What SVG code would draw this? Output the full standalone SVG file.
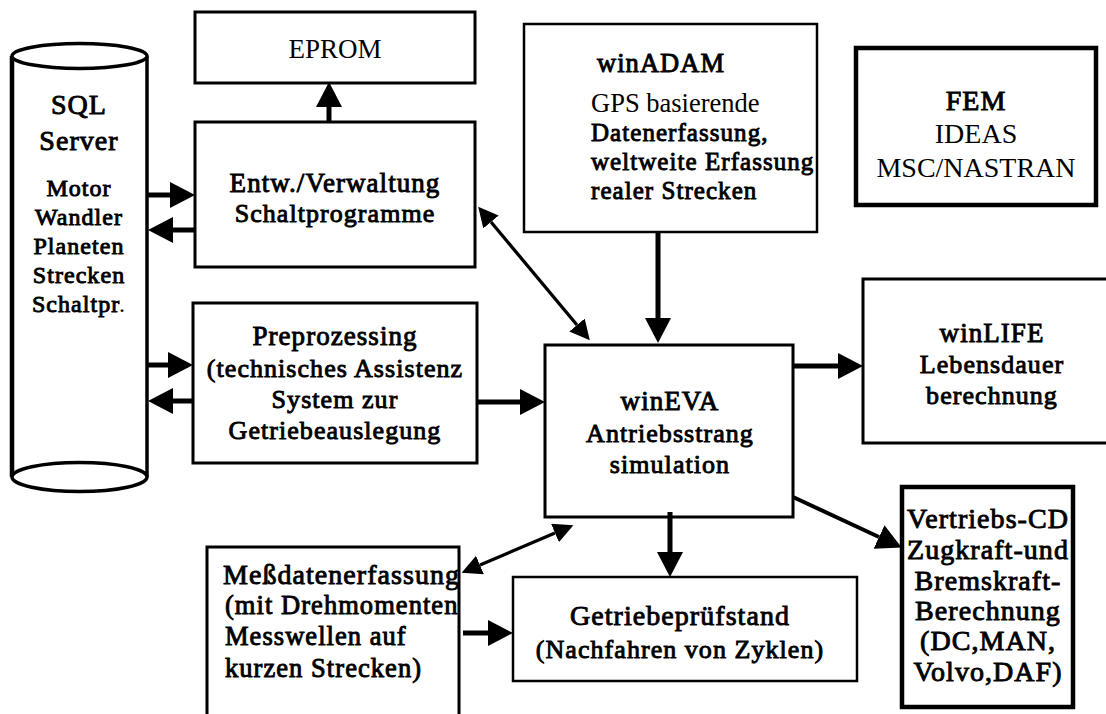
<svg xmlns="http://www.w3.org/2000/svg" width="1106" height="714" viewBox="0 0 1106 714">
<defs>
<style>
.box{fill:#fff;stroke:#000;stroke-width:3}
.thin{stroke-width:2.5}
.thick{stroke-width:4.5}
.t{font-family:"Liberation Serif","Times New Roman",serif;font-weight:normal;fill:#000;text-anchor:middle}
.b{stroke:#000;stroke-width:0.9px;letter-spacing:1.05px}
.l{text-anchor:start}
.c5{stroke:#000;stroke-width:5;fill:none}
.c4{stroke:#000;stroke-width:4;fill:none}
.c3{stroke:#000;stroke-width:3.3;fill:none}
</style>
<marker id="ah" markerUnits="userSpaceOnUse" markerWidth="25" markerHeight="26" refX="0" refY="13" orient="auto-start-reverse" viewBox="0 0 25 26">
<path d="M0,0 L25,13 L0,26 z" fill="#000"/>
</marker>
<marker id="as" markerUnits="userSpaceOnUse" markerWidth="20" markerHeight="20" refX="0" refY="10" orient="auto-start-reverse" viewBox="0 0 20 20">
<path d="M0,0 L20,10 L0,20 z" fill="#000"/>
</marker>
</defs>
<rect width="1106" height="714" fill="#fff"/>

<g id="sql">
<line x1="12" y1="56" x2="12" y2="477" stroke="#000" stroke-width="4.5"/>
<line x1="147" y1="56" x2="147" y2="477" stroke="#000" stroke-width="3.5"/>
<ellipse cx="79.5" cy="56" rx="67.5" ry="12.5" fill="#fff" stroke="#000" stroke-width="3.5"/>
<ellipse cx="79.5" cy="477" rx="67.5" ry="14.5" fill="#fff" stroke="#000" stroke-width="3.5"/>
<text class="t b" x="79" y="114" font-size="28">SQL</text>
<text class="t b" x="79" y="150" font-size="28">Server</text>
<text class="t b" x="79" y="196" font-size="24">Motor</text>
<text class="t b" x="79" y="225" font-size="24">Wandler</text>
<text class="t b" x="79" y="254" font-size="24">Planeten</text>
<text class="t b" x="79" y="283" font-size="24">Strecken</text>
<text class="t b" x="79" y="312" font-size="24">Schaltpr<tspan stroke-width="0">.</tspan></text>
</g>

<g id="eprom">
<rect class="box" x="195" y="12" width="280" height="71"/>
<text class="t" x="335" y="58" font-size="27">EPROM</text>
</g>

<g id="entw">
<rect class="box" x="195" y="122" width="280" height="145"/>
<text class="t b" x="335" y="192" font-size="27">Entw./Verwaltung</text>
<text class="t b" x="335" y="222" font-size="26">Schaltprogramme</text>
</g>

<g id="winadam">
<rect class="box thin" x="524" y="24" width="293" height="208"/>
<text class="t b l" x="597" y="72" font-size="26.5">winADAM</text>
<text class="t l" x="591" y="112" font-size="26.5">GPS basierende</text>
<text class="t b l" x="591" y="141" font-size="25" letter-spacing="0.8">Datenerfassung,</text>
<text class="t b l" x="591" y="170" font-size="25" letter-spacing="0.8">weltweite Erfassung</text>
<text class="t b l" x="591" y="199" font-size="25" letter-spacing="0.8">realer Strecken</text>
</g>

<g id="fem">
<rect class="box thick" x="856" y="48" width="240" height="157"/>
<text class="t b" x="976" y="110" font-size="28">FEM</text>
<text class="t" x="976" y="143" font-size="28">IDEAS</text>
<text class="t" x="976" y="177" font-size="28">MSC/NASTRAN</text>
</g>

<g id="preprozessing">
<rect class="box" x="193" y="303" width="284" height="160"/>
<text class="t b" x="335" y="345" font-size="27">Preprozessing</text>
<text class="t b" x="335" y="377" font-size="26">(technisches Assistenz</text>
<text class="t b" x="335" y="408" font-size="26">System zur</text>
<text class="t b" x="335" y="439" font-size="26">Getriebeauslegung</text>
</g>

<g id="wineva">
<rect class="box" x="545" y="345" width="248" height="172"/>
<text class="t b" x="670" y="410" font-size="27">winEVA</text>
<text class="t b" x="670" y="442" font-size="26">Antriebsstrang</text>
<text class="t b" x="670" y="473" font-size="26">simulation</text>
</g>

<g id="winlife">
<rect class="box" x="863" y="279" width="250" height="164"/>
<text class="t b" x="992" y="342" font-size="27">winLIFE</text>
<text class="t b" x="992" y="373" font-size="26">Lebensdauer</text>
<text class="t b" x="992" y="404" font-size="26">berechnung</text>
</g>

<g id="vertrieb">
<rect class="box thick" x="902" y="487" width="171" height="220"/>
<text class="t b" x="988" y="528" font-size="28">Vertriebs-CD</text>
<text class="t b" x="988" y="559" font-size="28">Zugkraft-und</text>
<text class="t b" x="988" y="590" font-size="28">Bremskraft-</text>
<text class="t b" x="988" y="620" font-size="28">Berechnung</text>
<text class="t b" x="988" y="650" font-size="28">(DC,MAN,</text>
<text class="t b" x="988" y="681" font-size="28">Volvo,DAF)</text>
</g>

<g id="messdaten">
<rect class="box" x="207" y="547" width="252" height="180"/>
<text class="t b l" x="223" y="584" font-size="28" letter-spacing="1.3">Meßdatenerfassung</text>
<text class="t b l" x="225" y="614" font-size="26.5">(mit Drehmomenten</text>
<text class="t b l" x="225" y="645" font-size="26.5">Messwellen auf</text>
<text class="t b l" x="225" y="677" font-size="26.5">kurzen Strecken)</text>
</g>

<g id="pruefstand">
<rect class="box thin" x="513" y="577" width="344" height="104"/>
<text class="t b" x="680" y="625" font-size="28">Getriebeprüfstand</text>
<text class="t b" x="680" y="658" font-size="26">(Nachfahren von Zyklen)</text>
</g>

<g id="connectors">
<line class="c5" x1="148" y1="195" x2="170" y2="195" marker-end="url(#ah)"/>
<line class="c5" x1="195" y1="230" x2="173" y2="230" marker-end="url(#ah)"/>
<line class="c5" x1="148" y1="365" x2="168" y2="365" marker-end="url(#ah)"/>
<line class="c5" x1="193" y1="401" x2="173" y2="401" marker-end="url(#ah)"/>
<line class="c5" x1="329" y1="122" x2="329" y2="107" marker-end="url(#ah)"/>
<line class="c3" x1="491" y1="222" x2="577" y2="325" marker-start="url(#as)" marker-end="url(#as)"/>
<line class="c5" x1="658" y1="232" x2="658" y2="318" marker-end="url(#ah)"/>
<line class="c5" x1="477" y1="402" x2="520" y2="402" marker-end="url(#ah)"/>
<line class="c5" x1="793" y1="366" x2="838" y2="366" marker-end="url(#ah)"/>
<line class="c4" x1="793" y1="497" x2="879" y2="537" marker-end="url(#ah)"/>
<line class="c5" x1="670" y1="512" x2="670" y2="552" marker-end="url(#ah)"/>
<line class="c3" x1="480" y1="565" x2="555" y2="533" marker-start="url(#as)" marker-end="url(#as)"/>
<line class="c5" x1="463" y1="633" x2="488" y2="633" marker-end="url(#ah)"/>
</g>
</svg>
